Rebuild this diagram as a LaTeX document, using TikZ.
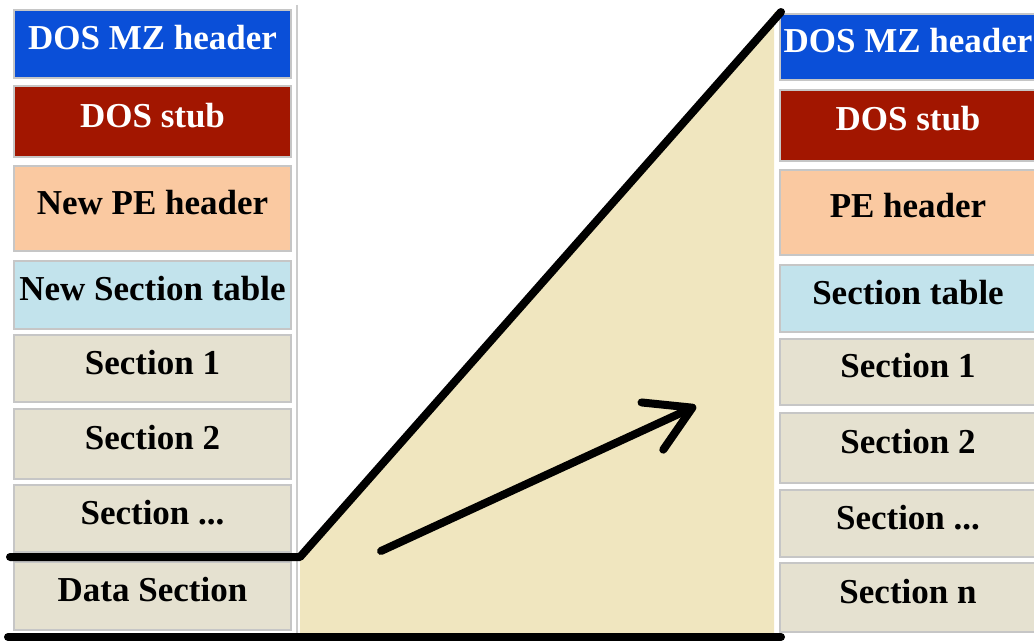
\documentclass[tikz,border=0pt]{standalone}
\usepackage{fontspec}
\setmainfont{Liberation Serif}
\usetikzlibrary{arrows.meta}
\definecolor{mzblue}{HTML}{0A4FD8}
\definecolor{stubred}{HTML}{A21600}
\definecolor{pepeach}{HTML}{FAC9A1}
\definecolor{tabblue}{HTML}{C2E3EC}
\definecolor{secgray}{HTML}{E5E1D0}
\definecolor{gapyellow}{HTML}{F0E6BF}

\begin{document}
\begin{tikzpicture}[x=0.5pt, y=-0.5pt,
  secbox/.style={rectangle, draw=gray!45, line width=0.7pt, inner sep=0pt, text height=12pt, text depth=6.5pt, font=\fontsize{17.5}{20}\selectfont\bfseries},
  heavy/.style={line width=4pt, line cap=round, line join=round}
]
  \useasboundingbox (0,0) rectangle (1034,642);
  \clip (0,0) rectangle (1034,642);
  % inserted region
  \coordinate (kneeL) at (10,557);
  \coordinate (knee) at (300,557);
  \coordinate (apex) at (781,12);
  \coordinate (baseL) at (8,637);
  \coordinate (baseR) at (781,637);
  \fill[gapyellow] (knee) -- (apex) -- (774,12) -- (774,637) -- (300,637) -- cycle;
  % left column: patched file
  \draw[gray!40, line width=1pt] (297,5) -- (297,637);
  \foreach \n/\y/\h/\c/\t/\lbl in {mz/44/34/mzblue/white/DOS MZ header,
      stub/121.5/35.5/stubred/white/DOS stub,
      pe/208.5/42.5/pepeach/black/New PE header,
      tab/295/34/tabblue/black/New Section table,
      s1/368.5/33.5/secgray/black/Section 1,
      s2/444/35/secgray/black/Section 2,
      sdots/518.5/33.5/secgray/black/{Section ...},
      data/596/34/secgray/black/Data Section}{
    \node[secbox, fill=\c, text=\t, minimum width=138.5pt, minimum height=\h pt] (l\n) at (152.5,\y) {\lbl};}
  % right column: original file
  \foreach \n/\y/\h/\c/\t/\lbl in {mz/47/33/mzblue/white/DOS MZ header,
      stub/125.5/35.5/stubred/white/DOS stub,
      pe/212.5/42.5/pepeach/black/PE header,
      tab/298.5/33.5/tabblue/black/Section table,
      s1/372/33/secgray/black/Section 1,
      s2/448/35/secgray/black/Section 2,
      sdots/523.5/33.5/secgray/black/{Section ...},
      sn/597.5/34.5/secgray/black/Section n}{
    \node[secbox, fill=\c, text=\t, minimum width=128pt, minimum height=\h pt] (r\n) at (908,\y) {\lbl};}
  % borders and arrow
  \draw[heavy] (kneeL) -- (knee) -- (apex);
  \draw[heavy] (baseL) -- (baseR);
  \coordinate (arrS) at (381,551);
  \coordinate (arrE) at (696,406);
  \draw[heavy, -{Straight Barb[round, length=22pt, width=26pt]}] (arrS) -- (arrE);
\end{tikzpicture}
\end{document}
